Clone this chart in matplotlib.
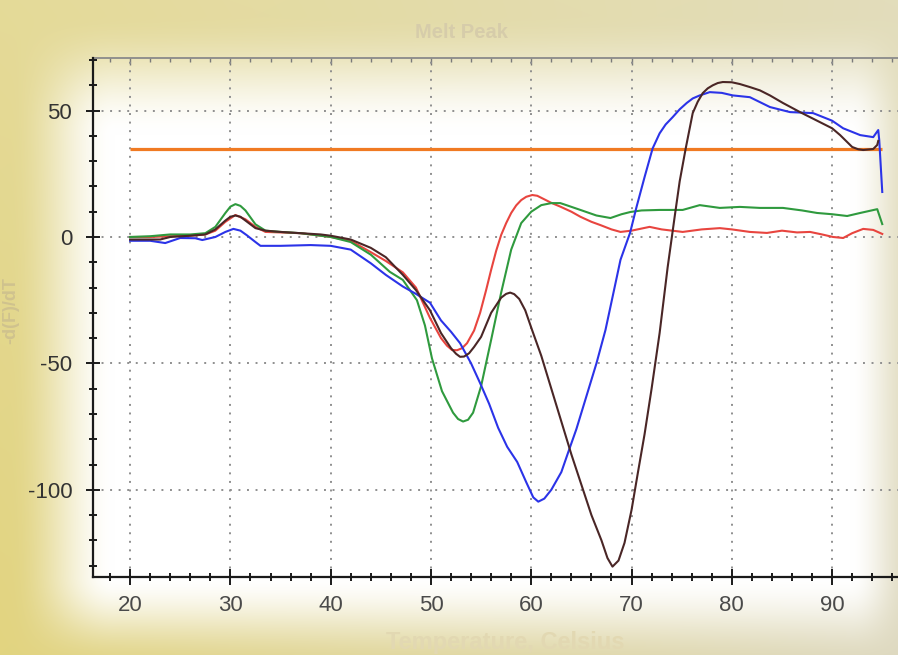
import numpy as np
import matplotlib
matplotlib.use("Agg")
import matplotlib.pyplot as plt
from matplotlib.ticker import MultipleLocator

plt.rcParams['font.family'] = ['Liberation Sans', 'DejaVu Sans']
plt.rcParams['axes.unicode_minus'] = False

# ---------------- data ----------------
red_t = [20, 22, 24, 26, 27.5, 28.5, 29.5, 30.5, 31.5, 32.5, 33.5, 35, 37, 39, 40, 42, 44, 45.5,
         47.2, 48.5, 49.9, 51, 51.6, 52.1, 52.6, 53.1, 53.6, 54.3, 54.9, 55.5, 56, 56.5, 57, 57.5,
         58, 58.5, 59, 59.5, 60.1, 60.6, 61, 62, 62.9, 64, 64.9, 66, 66.9, 68, 68.9, 70, 71.8, 73,
         75.1, 77, 78.8, 80, 81.8, 83.5, 85, 86.5, 87.8, 89, 90.1, 91.1, 92, 93.1, 94.1, 95]
red_v = [0, 0, 0.3, 0.5, 1, 2.5, 6, 8.7, 7, 4, 2, 1.8, 1.5, 0.5, 0, -1.5, -6, -9.5,
         -14, -20, -32, -40, -43, -44.7, -44.8, -44, -42, -37, -30, -21, -13, -5.5, 0.8, 5.5,
         9.5, 12.5, 14.6, 15.9, 16.6, 16.3, 15.5, 13.5, 12, 10, 8, 6, 4.7, 3, 2, 2.5, 4, 3,
         2, 3, 3.5, 3, 2, 1.6, 2.5, 1.8, 2, 1, 0, -0.4, 1.5, 3.2, 2.8, 1.2]

green_t = [20, 22, 24, 26, 27.5, 28.5, 29.5, 30, 30.5, 31, 31.5, 32.5, 33.5, 35, 37, 39, 40, 42,
           44, 45.9, 47.2, 48.6, 49.4, 50.1, 51.1, 52.2, 52.7, 53.2, 53.7, 54.2, 55, 56, 57, 58,
           59, 60, 61, 62, 62.9, 63.5, 64.9, 66.5, 67.9, 69, 69.9, 71, 72.8, 75.1, 76.8, 78.8,
           80.8, 82.8, 85.1, 87, 88.5, 90, 91.5, 92.8, 94.5, 95]
green_v = [0, 0.3, 1, 1, 1.5, 4, 9.5, 12, 13, 12.3, 10.5, 5, 2.5, 2, 1.5, 0.5, 0, -2,
           -7, -13.8, -17, -25, -35, -48, -61, -69.5, -72, -73, -72.3, -69.5, -59, -40.7, -22, -5,
           5.5, 10, 12.6, 13.4, 13.4, 12.6, 10.7, 8.5, 7.5, 9, 9.9, 10.5, 10.7, 10.7, 12.6, 11.5,
           11.9, 11.5, 11.5, 10.5, 9.5, 9, 8.3, 9.5, 11, 5.1]

brown_t = [20, 22, 23, 24, 26, 27.5, 28.5, 29.5, 30, 30.5, 31, 31.5, 32.5, 33.5, 35, 37, 39, 40,
           42, 44, 45.5, 47.2, 48.5, 49.9, 51, 52, 52.5, 52.9, 53.3, 53.8, 54.3, 55, 56, 57, 57.5,
           57.9, 58.3, 58.8, 59.4, 60.1, 61, 62, 63, 64, 65, 66, 67, 67.6, 68.1, 68.7, 69.3, 70,
           70.6, 71.3, 72, 72.8, 73.6, 74.3, 74.8, 75.4, 76.1, 76.6, 77.1, 77.6, 78.1, 78.6, 79.1,
           80, 80.8, 81.8, 82.8, 83.8, 85.1, 86.8, 88.5, 90, 90.8, 92, 92.6, 93.1, 94.1, 94.5, 94.6]
brown_v = [-1, -1, -1, 0, 0.5, 1, 3, 6.5, 8, 8.5, 8, 6.5, 3.5, 2.5, 2, 1.5, 1, 0.5,
           -1, -4.3, -8, -15, -21, -29, -38, -44, -46.2, -47.4, -47.3, -46, -43.5, -39.5, -30, -24, -22.5,
           -22, -22.6, -24.5, -29, -37, -47, -60, -73, -86, -98, -110, -120, -127, -130.4, -128, -121, -108,
           -94, -78, -60, -38, -12, 8, 22, 35, 49, 53.5, 56.9, 58.8, 60, 60.9, 61.3,
           61.2, 60.5, 59.3, 58, 56, 53, 49.4, 46, 43, 40.3, 35.6, 34.7, 34.4, 34.8, 36.4, 38]

blue_t = [20, 22, 23.5, 25, 26.5, 27.2, 28.5, 29.5, 30.3, 31, 31.6, 32.5, 33, 35, 38, 40, 42, 44,
          45.5, 47.2, 48.5, 49.9, 51, 52, 52.9, 54, 54.9, 55.8, 56.7, 57.6, 58.6, 59.5, 60.2, 60.7,
          61.3, 62, 63, 63.7, 64.5, 65.5, 66.5, 67.4, 68.2, 68.9, 69.85, 70.5, 71.3, 72.1, 72.8,
          73.4, 74.1, 74.8, 75.5, 76.1, 76.8, 77.8, 79, 80.1, 81.8, 83.8, 85.8, 88.1, 90, 91.1,
          92.8, 94.1, 94.6, 94.7, 95]
blue_v = [-1.5, -1.5, -2.4, -0.4, -0.5, -1.2, 0, 2, 3.2, 2.5, 0.8, -2, -3.5, -3.5, -3.2, -3.5, -5, -10.4,
          -15, -19.6, -22.5, -26, -33, -37.5, -42, -50, -57.8, -66, -75.5, -83, -89, -97, -103, -104.7,
          -103.5, -100, -93, -85, -76, -63, -50, -36.8, -22, -9, 1.6, 11.9, 23.7, 35, 41,
          44.5, 47.4, 50.5, 53, 54.8, 56, 57.3, 57, 56, 55.3, 51.4, 49.4, 49, 46, 43,
          40.3, 39.5, 42.3, 38.3, 17.8]

threshold_t = [20, 95]
threshold_v = [35, 35]

x_ticks = [20, 30, 40, 50, 60, 70, 80, 90]
y_ticks = [-100, -50, 0, 50]

title_text = "Melt Peak"
xlabel_text = "Temperature, Celsius"
ylabel_text = "-d(F)/dT"

# ---------------- figure ----------------
W, H = 898, 655
fig = plt.figure(figsize=(W / 100, H / 100), dpi=100)

# background gradient (yellow frame fading to white)
def ss(a, b, x):
    t = np.clip((x - a) / (b - a), 0, 1)
    return t * t * (3 - 2 * t)

px = np.arange(W) + 0.5
py = np.arange(H) + 0.5
fx = ss(10, 115, px) * (1 - ss(850, 915, px))
fy = ss(15, 135, py) * (1 - ss(575, 668, py))
w = np.outer(fy, fx)[..., None]
u = (px / W)[None, :, None]
vv = (py / H)[:, None, None]
left_c = np.array([226, 212, 128]) / 255
right_c = np.array([222, 217, 192]) / 255
top_c = np.array([232, 226, 182]) / 255
base = left_c * (1 - u) + right_c * u
base = base * (0.55 + 0.45 * vv) + top_c * (0.45 - 0.45 * vv)
img = base * (1 - w) + 1.0 * w
bg = fig.add_axes([0, 0, 1, 1], zorder=-10)
bg.imshow(img, extent=[0, 1, 0, 1], aspect='auto', interpolation='bilinear')
bg.set_axis_off()

ax = fig.add_axes([93 / W, 78 / H, 1 - 93 / W, (577 - 58) / H])
ax.set_facecolor('none')

ax.plot(threshold_t, threshold_v, color='#f07a22', lw=2.3, solid_capstyle='butt', zorder=3)
ax.plot(red_t, red_v, color='#e8453f', lw=1.5, zorder=4)
ax.plot(green_t, green_v, color='#2f9a3e', lw=1.5, zorder=4)
ax.plot(blue_t, blue_v, color='#2b33e8', lw=1.5, zorder=5)
ax.plot(brown_t, brown_v, color='#4a2626', lw=1.5, zorder=6)

ax.set_xlim(16.3, 96.57)
ax.set_ylim(-134.5, 70.8)

ax.set_xticks(x_ticks)
ax.set_yticks(y_ticks)
ax.xaxis.set_minor_locator(MultipleLocator(2))
ax.yaxis.set_minor_locator(MultipleLocator(10))

ax.grid(True, which='major', color='#8f8f8f', linestyle=(0, (1, 3.4)), linewidth=1.4)

for s in ['right', 'top']:
    ax.spines[s].set_visible(False)
for s in ['left', 'bottom']:
    ax.spines[s].set_color('#1a1a1a')
    ax.spines[s].set_linewidth(1.6)

ax.tick_params(axis='y', which='major', direction='inout', length=10, width=1.4,
               color='#1a1a1a', labelsize=16, labelcolor='#333333', pad=10)
ax.tick_params(axis='y', which='minor', direction='inout', length=6, width=1.4, color='#1a1a1a')
ax.tick_params(axis='x', which='major', direction='inout', length=12, width=1.4,
               color='#1a1a1a', labelsize=16, labelcolor='#4a4a4a', pad=7)
ax.tick_params(axis='x', which='minor', direction='inout', length=6, width=1.4, color='#1a1a1a')

sec = ax.secondary_xaxis('top')
sec.set_xticks(x_ticks)
sec.xaxis.set_minor_locator(MultipleLocator(2))
sec.tick_params(which='major', direction='in', length=5, width=1.0, color='#7a7a7a', labeltop=False)
sec.tick_params(which='minor', direction='in', length=3, width=1.0, color='#7a7a7a')
sec.spines['top'].set_color('#8a8a8a')
sec.spines['top'].set_linewidth(1.3)

faded = '#d6ccaa'
fig.text(461 / W, 1 - 32 / H, title_text, ha='center', va='center', fontsize=14.5,
         fontweight='bold', color=faded)
fig.text(505 / W, 1 - 643 / H, xlabel_text, ha='center', va='center', fontsize=17,
         fontweight='bold', color='#e2d8b2')
fig.text(11 / W, 1 - 310 / H, ylabel_text, ha='center', va='center', fontsize=13,
         fontweight='bold', color='#cfc28e', rotation=90)

fig.savefig('out.png', dpi=100)
